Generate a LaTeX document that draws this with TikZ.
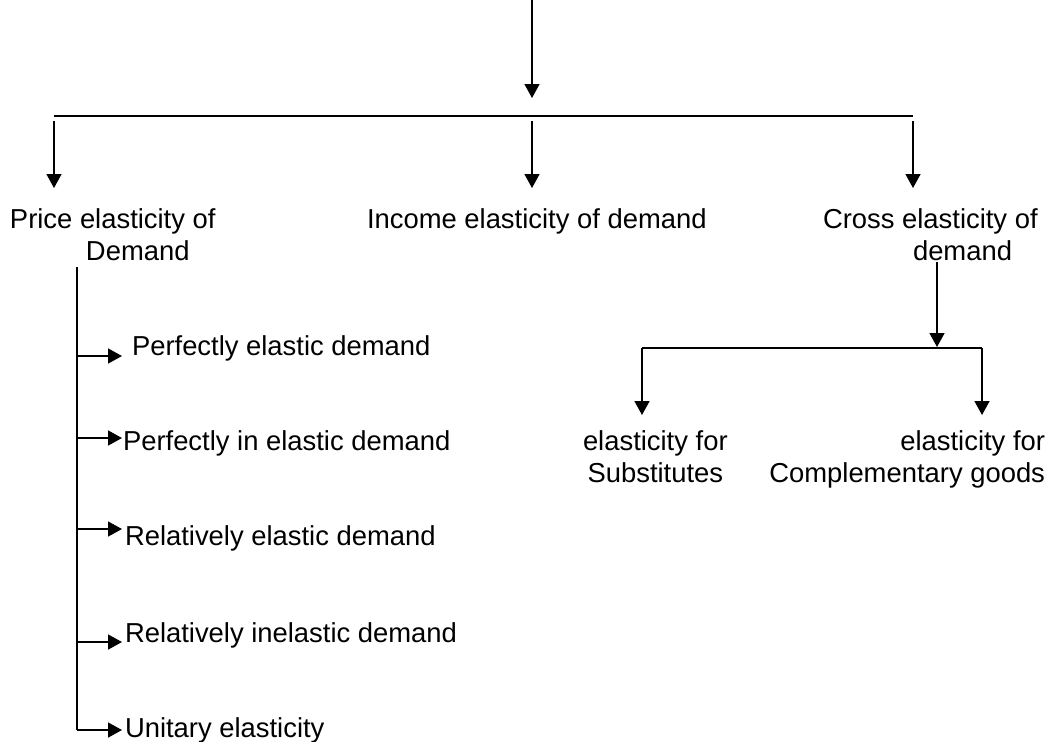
\documentclass[tikz,border=0pt]{standalone}
\usepackage{fontspec}
\setmainfont{Liberation Sans}
\usetikzlibrary{arrows.meta,positioning}
\begin{document}
\begin{tikzpicture}[x=0.5pt, y=-0.5pt, line width=0.75pt, font=\fontsize{13.7}{16}\selectfont, >={Triangle[width=7.5pt,length=7pt]},
	lbl/.style={inner sep=0pt, outer sep=0pt}]
	\useasboundingbox (0,0) rectangle (1053,741);
	% main labels
	\node[lbl, align=center, anchor=base west] (price) at (10,260) {Price elasticity of\\\hspace*{25pt}Demand};
	\node[lbl, anchor=base west] (income) at (367,228) {Income elasticity of demand};
	\node[lbl, align=left, anchor=base west] (cross) at (823,260) {Cross elasticity of\\\hspace*{45pt}demand};
	% price elasticity kinds
	\node[lbl, anchor=base west] (pe1) at (132,355) {Perfectly elastic demand};
	\node[lbl, anchor=base west] (pe2) at (123,450) {Perfectly in elastic demand};
	\node[lbl, anchor=base west] (pe3) at (125,545) {Relatively elastic demand};
	\node[lbl, anchor=base west] (pe4) at (125,642) {Relatively inelastic demand};
	\node[lbl, anchor=base west] (pe5) at (125,737) {Unitary elasticity};
	% cross elasticity kinds
	\node[lbl, align=center, anchor=base west] (subs) at (583,482) {elasticity for\\Substitutes};
	\node[lbl, align=right, anchor=base east] (comp) at (1045,482) {elasticity for\\Complementary goods};
	% top part
	\coordinate (top) at (532,0);
	\coordinate (topend) at (532,98);
	\draw[->] (top)--(topend);
	\coordinate (barL) at (54,116);
	\coordinate (barR) at (913,116);
	\draw (barL)--(barR);
	\foreach \x/\n in {54/a,532/b,913/c} {
		\coordinate (d\n1) at (\x,121);
		\coordinate (d\n2) at (\x,188);
		\draw[->] (d\n1)--(d\n2);
	}
	% spine of price elasticity
	\coordinate (sp) at (77,267);
	\coordinate (spend) at (77,730);
	\draw (sp)--(spend);
	\foreach \y/\n in {356/1,438/2,529/3,642/4,730/5} {
		\coordinate (s\n) at (77,\y);
		\coordinate (t\n) at (122,\y);
		\draw[->] (s\n)--(t\n);
	}
	% cross elasticity split
	\coordinate (cr) at (937,262);
	\coordinate (crend) at (937,347);
	\draw[->] (cr)--(crend);
	\coordinate (cL) at (642,348);
	\coordinate (cR) at (982,348);
	\draw (cL)--(cR);
	\coordinate (cLend) at (642,415);
	\coordinate (cRend) at (982,415);
	\draw[->] (cL)--(cLend);
	\draw[->] (cR)--(cRend);
\end{tikzpicture}
\end{document}
